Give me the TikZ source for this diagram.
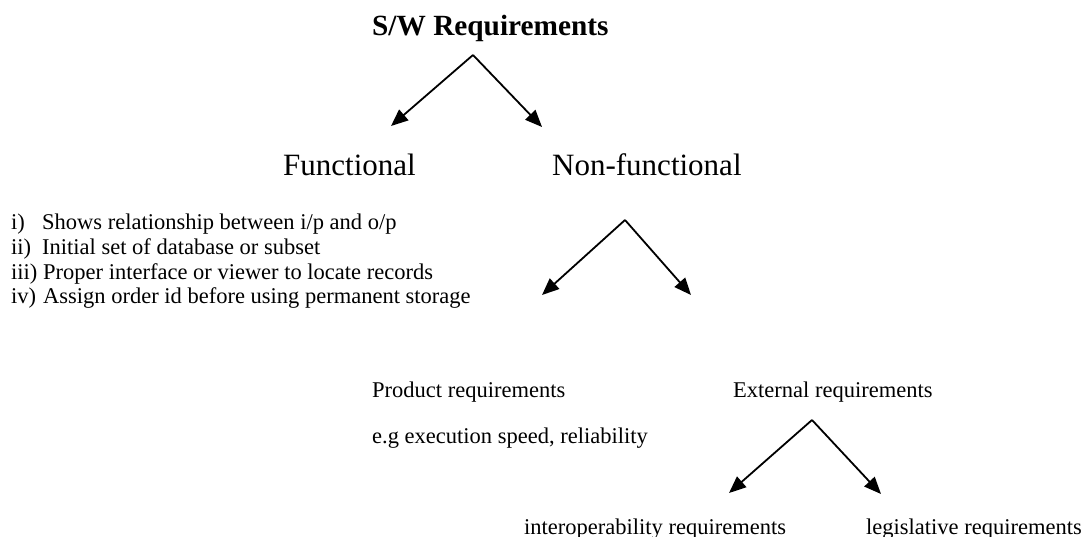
\documentclass[tikz,border=0pt]{standalone}
\usepackage{fontspec}
\setmainfont{Liberation Serif}
\usetikzlibrary{arrows.meta}
\begin{document}
\begin{tikzpicture}[x=1pt,y=-1pt,
  lbl/.style={inner sep=0pt,anchor=base west,font=\fontsize{22.5}{27}\selectfont},
  big/.style={inner sep=0pt,anchor=base west,font=\fontsize{31}{36}\selectfont},
  arr/.style={line width=1.8pt,-{Triangle[length=17pt,width=14pt]}}]
\useasboundingbox (0,0) rectangle (1089,536);
\clip (0,0) rectangle (1089,536);
\node[inner sep=0pt,anchor=base west,font=\bfseries\fontsize{29.3}{34}\selectfont] (sw) at (372,35) {S/W Requirements};
\node[big] (fun) at (283,175) {Functional};
\node[big] (nonf) at (552,175) {Non-functional};
\node[lbl] (l1) at (11,229) {i)};
\node[lbl] (t1) at (42,229) {Shows relationship between i/p and o/p};
\node[lbl] (l2) at (11,254) {ii)};
\node[lbl] (t2) at (42,254) {Initial set of database or subset};
\node[lbl] (l3) at (11,279) {iii)};
\node[lbl] (t3) at (43,279) {Proper interface or viewer to locate records};
\node[lbl] (l4) at (11,303) {iv)};
\node[lbl] (t4) at (43,303) {Assign order id before using permanent storage};
\node[lbl] (prod) at (372,397) {Product requirements};
\node[lbl] (eg) at (372,443) {e.g execution speed, reliability};
\node[lbl] (ext) at (733,397) {External requirements};
\node[lbl] (inter) at (524,534) {interoperability requirements};
\node[lbl] (legis) at (866,534) {legislative requirements};
% connectors
\coordinate (a1) at (473,55);
\coordinate (a1l) at (391,126);
\coordinate (a1r) at (542,127);
\draw[arr] (a1) -- (a1l);
\draw[arr] (a1) -- (a1r);
\coordinate (a2) at (625,220);
\coordinate (a2l) at (542,295);
\coordinate (a2r) at (691,295);
\draw[arr] (a2) -- (a2l);
\draw[arr] (a2) -- (a2r);
\coordinate (a3) at (812,420);
\coordinate (a3l) at (729,493);
\coordinate (a3r) at (881,494);
\draw[arr] (a3) -- (a3l);
\draw[arr] (a3) -- (a3r);
\end{tikzpicture}
\end{document}
